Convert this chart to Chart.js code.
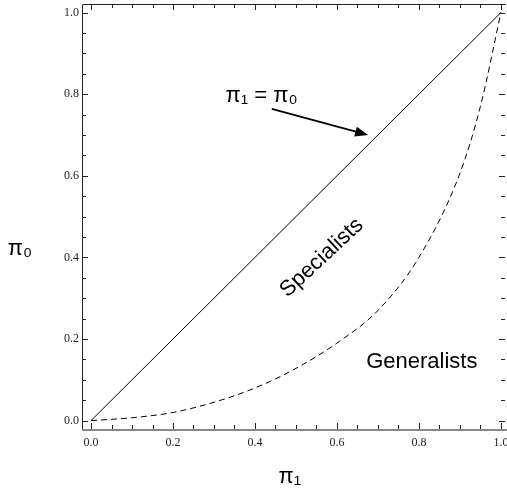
<!DOCTYPE html>
<html>
<head>
<meta charset="utf-8">
<script src="https://cdn.jsdelivr.net/npm/chart.js@4.4.1/dist/chart.umd.min.js"></script>
<style>
  html, body { margin: 0; padding: 0; background: #fff; }
  #wrap { width: 507px; height: 493px; }
</style>
</head>
<body>
<div id="wrap"><canvas id="c"></canvas></div>
<script>
// values
const pi1 = [0, 0.1, 0.2, 0.3, 0.4, 0.5, 0.6, 0.7, 0.8, 0.9, 0.95, 1.0];
const boundary = [0, 0.007, 0.02, 0.045, 0.08, 0.128, 0.19, 0.27, 0.4, 0.606, 0.77, 1.0];
const diagX = [0, 1];
const diagY = [0, 1];

const majorTicks = [0, 0.2, 0.4, 0.6, 0.8, 1.0];
const tickLabels = ['0.0', '0.2', '0.4', '0.6', '0.8', '1.0'];
const minorTicks = [0.05, 0.1, 0.15, 0.25, 0.3, 0.35, 0.45, 0.5, 0.55, 0.65, 0.7, 0.75, 0.85, 0.9, 0.95];

const toPts = (xs, ys) => xs.map((x, i) => ({x: x, y: ys[i]}));

const framePlugin = {
  id: 'frame',
  afterDraw(chart) {
    const ctx = chart.ctx;
    const a = chart.chartArea;
    const sx = chart.scales.x, sy = chart.scales.y;
    ctx.save();
    // frame
    ctx.strokeStyle = '#222';
    ctx.lineWidth = 1;
    ctx.beginPath();
    ctx.moveTo(a.left + 0.5, a.bottom);
    ctx.lineTo(a.left + 0.5, a.top + 0.5);
    ctx.lineTo(a.right + 1, a.top + 0.5);
    ctx.stroke();
    ctx.strokeStyle = '#888';
    ctx.lineWidth = 2;
    ctx.beginPath();
    ctx.moveTo(a.left, a.bottom);
    ctx.lineTo(a.right + 2, a.bottom);
    ctx.stroke();

    // ticks
    ctx.strokeStyle = '#222';
    ctx.lineWidth = 1;
    const tick = (v, len) => {
      const px = Math.round(sx.getPixelForValue(v)) + 0.5;
      const py = Math.round(sy.getPixelForValue(v)) + 0.5;
      ctx.beginPath();
      ctx.moveTo(px, a.bottom - 1); ctx.lineTo(px, a.bottom - 1 - len);
      ctx.moveTo(px, a.top); ctx.lineTo(px, a.top + len);
      ctx.moveTo(a.left, py); ctx.lineTo(a.left + len, py);
      ctx.moveTo(a.right, py); ctx.lineTo(a.right - len, py);
      ctx.stroke();
    };
    majorTicks.forEach(v => tick(v, 6));
    minorTicks.forEach(v => tick(v, 4));

    // tick labels
    ctx.fillStyle = '#222';
    ctx.font = '12px "Liberation Serif", "DejaVu Serif", serif';
    ctx.textAlign = 'center';
    ctx.textBaseline = 'middle';
    majorTicks.forEach((v, i) => {
      ctx.fillText(tickLabels[i], sx.getPixelForValue(v), a.bottom + 13);
    });
    ctx.textAlign = 'right';
    majorTicks.forEach((v, i) => {
      ctx.fillText(tickLabels[i], a.left - 3, sy.getPixelForValue(v));
    });

    // axis titles
    ctx.fillStyle = '#000';
    ctx.font = '22px "Liberation Sans", Arial, sans-serif';
    ctx.textAlign = 'center';
    ctx.fillText('π₁', sx.getPixelForValue(0.485), a.bottom + 47);
    ctx.fillText('π₀', 20, sy.getPixelForValue(0.42));

    // annotations
    ctx.fillText('π₁ = π₀', sx.getPixelForValue(0.416), sy.getPixelForValue(0.796));
    ctx.fillText('Generalists', sx.getPixelForValue(0.807), sy.getPixelForValue(0.144));
    ctx.save();
    ctx.translate(sx.getPixelForValue(0.563), sy.getPixelForValue(0.399));
    ctx.rotate(-43 * Math.PI / 180);
    ctx.fillText('Specialists', 0, 0);
    ctx.restore();

    // arrow
    const x0 = sx.getPixelForValue(0.441), y0 = sy.getPixelForValue(0.764);
    const x1 = sx.getPixelForValue(0.676), y1 = sy.getPixelForValue(0.700);
    const ang = Math.atan2(y1 - y0, x1 - x0);
    ctx.strokeStyle = '#000';
    ctx.lineWidth = 1.8;
    ctx.beginPath();
    ctx.moveTo(x0, y0);
    ctx.lineTo(x1 - 8 * Math.cos(ang), y1 - 8 * Math.sin(ang));
    ctx.stroke();
    ctx.fillStyle = '#000';
    ctx.beginPath();
    ctx.moveTo(x1, y1);
    ctx.lineTo(x1 - 13 * Math.cos(ang) + 5 * Math.sin(ang), y1 - 13 * Math.sin(ang) - 5 * Math.cos(ang));
    ctx.lineTo(x1 - 13 * Math.cos(ang) - 5 * Math.sin(ang), y1 - 13 * Math.sin(ang) + 5 * Math.cos(ang));
    ctx.closePath();
    ctx.fill();
    ctx.restore();
  }
};

new Chart(document.getElementById('c'), {
  type: 'line',
  data: {
    datasets: [
      {
        data: toPts(diagX, diagY),
        borderColor: '#000',
        borderWidth: 1,
        pointRadius: 0
      },
      {
        data: toPts(pi1, boundary),
        borderColor: '#000',
        borderWidth: 1,
        borderDash: [6, 4],
        pointRadius: 0,
        cubicInterpolationMode: 'monotone'
      }
    ]
  },
  options: {
    responsive: true,
    maintainAspectRatio: false,
    animation: false,
    layout: { padding: { top: 4, right: 2, left: 0, bottom: 0 } },
    plugins: { legend: { display: false }, tooltip: { enabled: false } },
    scales: {
      x: {
        type: 'linear', min: -0.022, max: 1.01,
        grid: { display: false }, border: { display: false },
        ticks: { display: false },
        afterFit: s => { s.height = 63; }
      },
      y: {
        type: 'linear', min: -0.023, max: 1.021,
        grid: { display: false }, border: { display: false },
        ticks: { display: false },
        afterFit: s => { s.width = 82; }
      }
    }
  },
  plugins: [framePlugin]
});
</script>
</body>
</html>
